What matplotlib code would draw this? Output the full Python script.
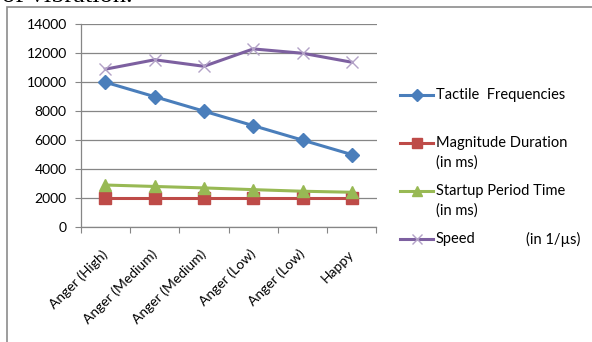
import matplotlib.pyplot as plt
from matplotlib.lines import Line2D
from matplotlib.patches import Rectangle
import numpy as np

plt.rcParams['font.family'] = ['Lato', 'DejaVu Sans']

# emotion categories and the four measured series
categories = ['Anger (High)', 'Anger (Medium)', 'Anger (Medium)',
              'Anger (Low)', 'Anger (Low)', 'Happy']
tactile = [10000, 9000, 8000, 7000, 6000, 5000]
magnitude = [2000, 2000, 2000, 2000, 2000, 2000]
startup = [2900, 2800, 2700, 2580, 2470, 2400]
speed = [10900, 11550, 11100, 12300, 12000, 11380]

series = [
    (tactile, '#4A7EBB', 'D', 7.5, ['Tactile  Frequencies']),
    (magnitude, '#BE4B48', 's', 8, ['Magnitude Duration', '(in ms)']),
    (startup, '#98B954', '^', 8, ['Startup Period Time', '(in ms)']),
    (speed, '#7D60A0', 'x', 9, ['Speed', '(in 1/\u00b5s)']),
]

W, H = 592, 342
fig = plt.figure(figsize=(W / 100, H / 100), dpi=100)

def fx(px):
    return px / W

def fy(py):
    return 1 - py / H

# chart frame (only left and top edges fall inside the image)
fig.add_artist(Rectangle((fx(7), fy(400)), fx(700), fy(7) - fy(400),
                         transform=fig.transFigure, fill=False,
                         edgecolor='#8c8c8c', linewidth=1.2))

# caption line of the page above the chart, cut by the top edge
fig.text(fx(2), fy(1.5), 'of vibration.', family='Liberation Serif',
         fontsize=19, va='baseline', ha='left', color='black')

ax = fig.add_axes([fx(80.7), fy(227), fx(376.5) - fx(80.7), fy(24.3) - fy(227)])
x = np.arange(len(categories)) + 0.5

for vals, col, mk, ms, _ in series:
    if mk == 'x':
        ax.plot(x, vals, color=col, lw=2.2, marker=mk, ms=ms, mec='#b3a2c7',
                mew=1.0, zorder=3)
    else:
        ax.plot(x, vals, color=col, lw=2.2, marker=mk, ms=ms, mec=col,
                zorder=3)

ax.set_xlim(0, len(categories))
ax.set_ylim(0, 14000)
ax.set_yticks(np.arange(0, 14001, 2000))
ax.set_xticks(np.arange(0, len(categories) + 1))
ax.set_xticklabels([])
ax.set_xticks(x, minor=True)
ax.set_xticklabels(categories, minor=True, rotation=45, ha='right',
                   va='center', rotation_mode='anchor')
ax.tick_params(axis='x', which='minor', length=0, pad=18, labelsize=10)
ax.tick_params(axis='x', which='major', length=4, color='#868686')
ax.tick_params(axis='y', length=4, color='#868686', labelsize=10, pad=6)
ax.grid(axis='y', color='#868686', lw=0.9)
ax.set_axisbelow(True)
for s in ['top', 'right']:
    ax.spines[s].set_visible(False)
for s in ['left', 'bottom']:
    ax.spines[s].set_color('#868686')
    ax.spines[s].set_linewidth(0.9)

# legend drawn as handle + text rows
rows_y = [95.5, 143.3, 191, 239]
for (vals, col, mk, ms, lab), yy in zip(series, rows_y):
    mec = '#b3a2c7' if mk == 'x' else col
    fig.add_artist(Line2D([fx(400), fx(433)], [fy(yy), fy(yy)], color=col,
                          lw=2.2, transform=fig.transFigure))
    fig.add_artist(Line2D([fx(416.5)], [fy(yy)], marker=mk, ms=ms * 0.85,
                          color=col, mec=mec, mew=1.0,
                          transform=fig.transFigure))
    if mk == 'x':
        fig.text(fx(435.5), fy(yy), lab[0], fontsize=10.5, va='center')
        fig.text(fx(525.5), fy(yy), lab[1], fontsize=10.5, va='center')
    else:
        for k, line in enumerate(lab):
            fig.text(fx(435.5), fy(yy + 19.4 * k), line, fontsize=10.5,
                     va='center')

fig.savefig('out.png', dpi=100)
